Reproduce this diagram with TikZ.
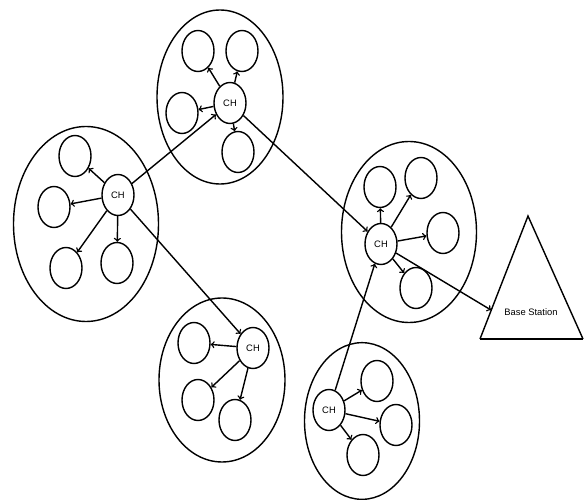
\documentclass[tikz,border=0pt]{standalone}
\usepackage{fontspec}
\setsansfont{Liberation Sans}
\usetikzlibrary{shapes.geometric}
\begin{document}
\begin{tikzpicture}[x=0.3mm, y=-0.3mm, >=to, line width=1.2pt,
	cluster/.style={draw, ellipse, inner sep=0pt},
	member/.style={draw, ellipse, minimum width=9.6mm, minimum height=12.3mm, inner sep=0pt},
	ch/.style={member, font=\sffamily\fontsize{8}{9}\selectfont}]
	\useasboundingbox (0,0) rectangle (587,500);
	% clusters
	\node[cluster, minimum width=37.8mm, minimum height=52.2mm] (ctop) at (220,97) {};
	\node[cluster, minimum width=43.5mm, minimum height=58.5mm] (cleft) at (86,224) {};
	\node[cluster, minimum width=37.8mm, minimum height=49.2mm] (cbot) at (222,380) {};
	\node[cluster, minimum width=40.5mm, minimum height=54.3mm] (cright) at (409,232) {};
	\node[cluster, minimum width=34.5mm, minimum height=47mm] (cbr) at (362,421) {};
	% top cluster
	\node[ch] (tch) at (230,103) {CH};
	\node[member] (t1) at (198,51) {};
	\node[member] (t2) at (242,51) {};
	\node[member] (t3) at (182,113) {};
	\node[member] (t4) at (238,152) {};
	\foreach \m in {t1,t2,t3,t4} \draw[->] (tch) -- (\m);
	% left cluster
	\node[ch] (lch) at (118,195) {CH};
	\node[member] (l1) at (75,156) {};
	\node[member] (l2) at (54,207) {};
	\node[member] (l3) at (66,268) {};
	\node[member] (l4) at (117,263) {};
	\foreach \m in {l1,l2,l3,l4} \draw[->] (lch) -- (\m);
	% bottom cluster
	\node[ch] (bch) at (253,348) {CH};
	\node[member] (b1) at (194,343) {};
	\node[member] (b2) at (198,400) {};
	\node[member] (b3) at (235,420) {};
	\foreach \m in {b1,b2,b3} \draw[->] (bch) -- (\m);
	% right cluster
	\node[ch] (rch) at (381,244) {CH};
	\node[member] (r1) at (380,187) {};
	\node[member] (r2) at (421,178) {};
	\node[member] (r3) at (443,233) {};
	\node[member] (r4) at (416,288) {};
	\foreach \m in {r1,r2,r3,r4} \draw[->] (rch) -- (\m);
	% bottom right cluster
	\node[ch] (sch) at (329,410) {CH};
	\node[member] (s1) at (377,381) {};
	\node[member] (s2) at (396,425) {};
	\node[member] (s3) at (363,455) {};
	\foreach \m in {s1,s2,s3} \draw[->] (sch) -- (\m);
	% base station
	\coordinate (bsl) at (480,339);
	\coordinate (bst) at (528,216);
	\coordinate (bsr) at (583,339);
	\coordinate (bsin) at (491,310);
	\draw (bsl) -- (bst) -- (bsr);
	\draw[line width=1.8pt] (bsl) -- (bsr);
	\node[font=\sffamily\fontsize{8}{9}\selectfont] (bs) at (531,312) {Base Station};
	% links between cluster heads
	\draw[->] (lch) -- (tch);
	\draw[->] (tch) -- (rch);
	\draw[->] (lch) -- (bch);
	\draw[->] (sch) -- (rch);
	\draw[->] (rch) -- (bsin);
\end{tikzpicture}
\end{document}
